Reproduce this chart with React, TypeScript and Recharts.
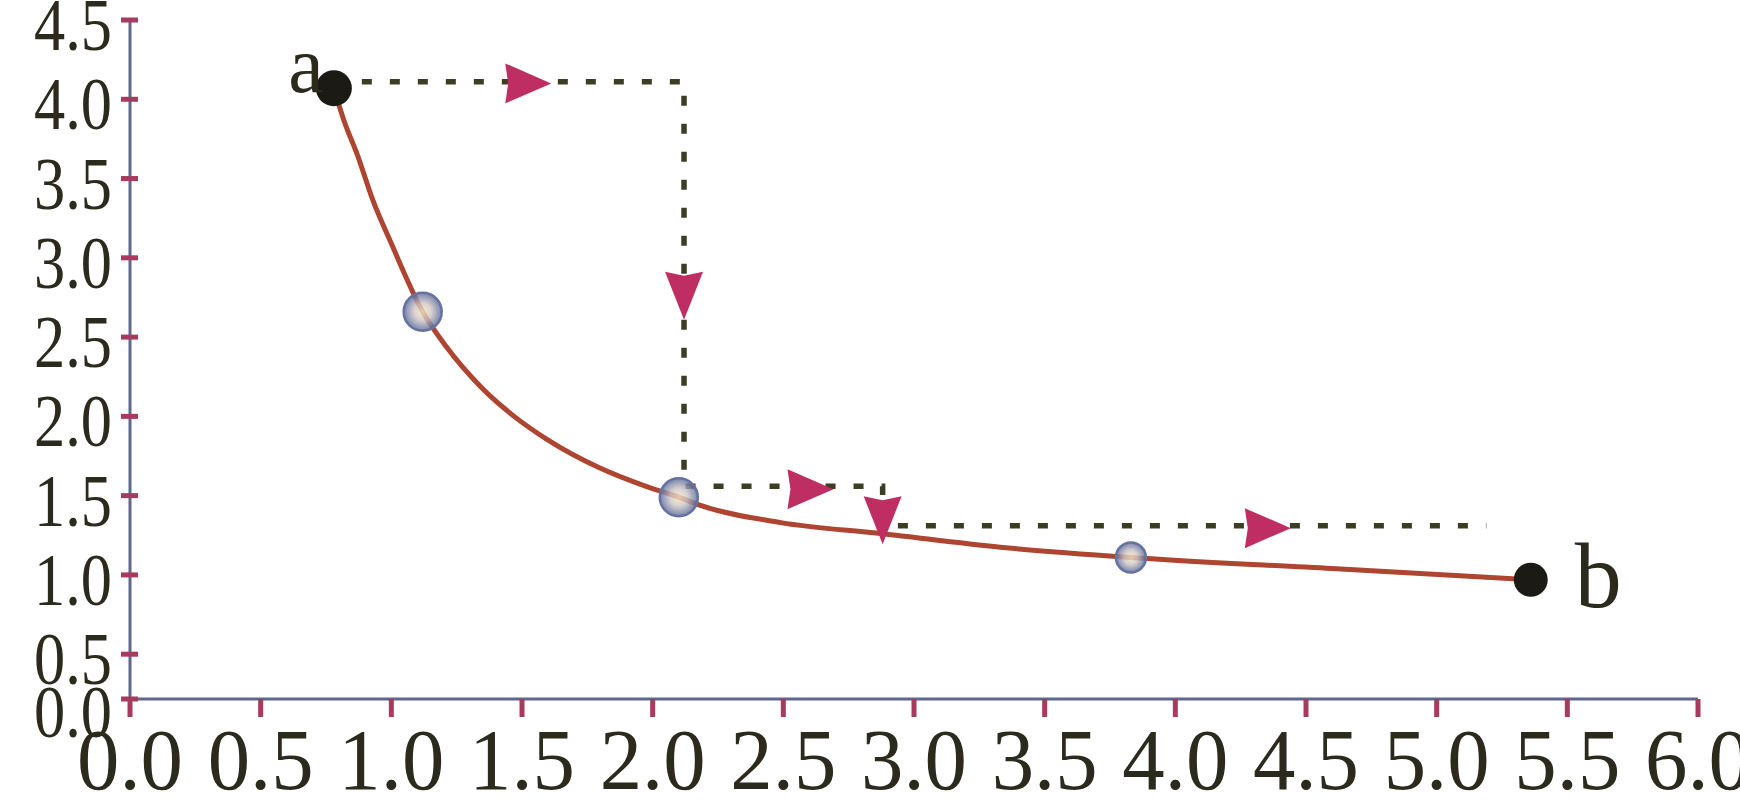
import React from 'react';
import { ComposedChart, Line, Scatter, XAxis, YAxis } from 'recharts';

// curve a -> b
const curveX = [0.78, 0.82, 0.87, 0.93, 1.0, 1.12, 1.21, 1.34, 1.47, 1.6, 1.79, 1.98, 2.1, 2.18, 2.49, 2.88, 3.33, 3.83, 4.6, 5.36];
const curveY = [4.07, 3.86, 3.65, 3.36, 3.09, 2.66, 2.44, 2.19, 2.0, 1.85, 1.68, 1.555, 1.49, 1.44, 1.33, 1.26, 1.175, 1.11, 1.04, 0.97];

// dotted step path
const pathX = [0.78, 2.12, 2.12, 2.88, 2.88, 5.19];
const pathY = [4.11, 4.11, 1.56, 1.56, 1.31, 1.31];

// arrow heads along the path
const arrowX = [1.52, 2.12, 2.6, 2.88, 4.35];
const arrowY = [4.1, 2.76, 1.54, 1.345, 1.295];
const arrowDir = ['right', 'down', 'right', 'down', 'right'];

// marked states on the curve
const midX = [1.12, 2.1, 3.83];
const midY = [2.66, 1.49, 1.11];
const endX = [0.78, 5.36];
const endY = [4.07, 0.97];
const endNames = ['a', 'b'];

const xTicks = [0, 0.5, 1, 1.5, 2, 2.5, 3, 3.5, 4, 4.5, 5, 5.5, 6];
const yTicks = [0, 0.5, 1, 1.5, 2, 2.5, 3, 3.5, 4, 4.5];

const curve = curveX.map((x, i) => ({ x, y: curveY[i] }));
const path = pathX.map((x, i) => ({ x, y: pathY[i] }));
const arrows = arrowX.map((x, i) => ({ x, y: arrowY[i], dir: arrowDir[i] }));
const mids = midX.map((x, i) => ({ x, y: midY[i] }));
const ends = endX.map((x, i) => ({ x, y: endY[i], name: endNames[i] }));

const INK = '#2b2a1c';
const TICK_RED = '#a83a5e';
const AXIS_BLUE = '#5f678c';
const CURVE = '#ad4530';
const DASH = '#3d3d24';
const ARROW = '#bf2e63';
const SERIF = '"Liberation Serif", "DejaVu Serif", serif';
const MID_R = [19, 19, 15];

// the scanned y axis squeezes the 0..0.5 band, so use a two-piece linear scale
const Y_BREAK = 0.5;
const Y_BREAK_SHARE = 0.066;

function brokenScale(): any {
  let dom = [0, 1];
  let rng = [0, 1];
  const s: any = (v: number) => {
    const [d0, d1] = dom;
    const [r0, r1] = rng;
    const rb = r0 + (r1 - r0) * Y_BREAK_SHARE;
    if (v <= Y_BREAK) return r0 + ((rb - r0) * (v - d0)) / (Y_BREAK - d0);
    return rb + ((r1 - rb) * (v - Y_BREAK)) / (d1 - Y_BREAK);
  };
  s.domain = (d?: any[]) => {
    if (d === undefined) return dom.slice();
    dom = d.map(Number);
    return s;
  };
  s.range = (r?: any[]) => {
    if (r === undefined) return rng.slice();
    rng = r.map(Number);
    return s;
  };
  s.copy = () => brokenScale().domain(dom).range(rng);
  s.ticks = () => yTicks.slice();
  s.tickFormat = () => (v: number) => v.toFixed(1);
  s.invert = (p: number) => {
    const [d0, d1] = dom;
    const [r0, r1] = rng;
    const rb = r0 + (r1 - r0) * Y_BREAK_SHARE;
    if ((p - rb) * (r0 - rb) >= 0) return d0 + ((p - r0) * (Y_BREAK - d0)) / (rb - r0);
    return Y_BREAK + ((p - rb) * (d1 - Y_BREAK)) / (r1 - rb);
  };
  return s;
}

function XTick(props: any) {
  const { x, y, payload } = props;
  return (
    <text x={x} y={y} dy={72} textAnchor="middle" fontFamily={SERIF} fontSize={86} fill={INK}
      textLength={106} lengthAdjust="spacingAndGlyphs">
      {Number(payload.value).toFixed(1)}
    </text>
  );
}

function YTick(props: any) {
  const { x, y, payload } = props;
  const v = Number(payload.value);
  return (
    <g>
      <line x1={x - 9} x2={x + 8} y1={y} y2={y} stroke={TICK_RED} strokeWidth={5} />
      <text x={x - 18} y={y} dy={v === 0 ? 38 : 30} textAnchor="end" fontFamily={SERIF} fontSize={74} fill={INK}
        textLength={78} lengthAdjust="spacingAndGlyphs">
        {v.toFixed(1)}
      </text>
    </g>
  );
}

function ArrowHead(props: any) {
  const { cx, cy, payload } = props;
  if (cx == null || cy == null) return null;
  const pts =
    payload.dir === 'down'
      ? [[cx - 19, cy - 24], [cx, cy - 20], [cx + 19, cy - 24], [cx, cy + 24]]
      : [[cx - 22, cy - 20], [cx + 24, cy], [cx - 22, cy + 20], [cx - 19, cy]];
  return <polygon points={pts.map(p => p.join(',')).join(' ')} fill={ARROW} />;
}

function MidDot(props: any) {
  const { cx, cy, index } = props;
  if (cx == null || cy == null) return null;
  const id = `mid-grad-${index}`;
  return (
    <g>
      <defs>
        <radialGradient id={id} cx="50%" cy="50%" r="50%">
          <stop offset="0%" stopColor="#f4e9c2" />
          <stop offset="45%" stopColor="#cfc6c4" />
          <stop offset="100%" stopColor="#56649a" />
        </radialGradient>
      </defs>
      <circle cx={cx} cy={cy} r={MID_R[index] ?? 17} fill={`url(#${id})`} fillOpacity={0.8}
        stroke="#66729f" strokeWidth={2.5} />
    </g>
  );
}

function EndDot(props: any) {
  const { cx, cy, payload } = props;
  if (cx == null || cy == null) return null;
  const isA = payload.name === 'a';
  return (
    <g>
      <circle cx={cx} cy={cy} r={isA ? 18 : 17} fill="#1c1a14" />
      <text
        x={isA ? cx - 10 : cx + 44}
        y={isA ? cy + 4 : cy + 27}
        textAnchor={isA ? 'end' : 'start'}
        fontFamily={SERIF}
        fontSize={isA ? 80 : 94}
        fill={INK}
      >
        {payload.name}
      </text>
    </g>
  );
}

export default function App() {
  return (
    <div style={{ position: 'fixed', left: 0, top: 0, background: '#fff' }}>
      <ComposedChart width={1740} height={799} margin={{ top: 20, right: 42, bottom: 0, left: 0 }}>
        <XAxis
          dataKey="x"
          type="number"
          domain={[0, 6]}
          ticks={xTicks}
          height={100}
          axisLine={{ stroke: AXIS_BLUE, strokeWidth: 3 }}
          tickLine={{ stroke: TICK_RED, strokeWidth: 5 }}
          tickSize={18}
          tickMargin={0}
          tick={<XTick />}
          interval={0}
          allowDataOverflow
        />
        <YAxis
          dataKey="y"
          type="number"
          domain={[0, 4.5]}
          ticks={yTicks}
          scale={brokenScale()}
          width={130}
          axisLine={{ stroke: AXIS_BLUE, strokeWidth: 3 }}
          tickLine={false}
          tickSize={0}
          tickMargin={0}
          tick={<YTick />}
          interval={0}
          allowDataOverflow
        />
        <Line
          data={curve}
          dataKey="y"
          type="monotone"
          stroke={CURVE}
          strokeWidth={5}
          dot={false}
          activeDot={false}
          isAnimationActive={false}
        />
        <Line
          data={path}
          dataKey="y"
          type="linear"
          stroke={DASH}
          strokeWidth={5.5}
          strokeDasharray="10 18"
          dot={false}
          activeDot={false}
          isAnimationActive={false}
        />
        <Scatter data={mids} dataKey="y" shape={<MidDot />} isAnimationActive={false} />
        <Scatter data={arrows} dataKey="y" shape={<ArrowHead />} isAnimationActive={false} />
        <Scatter data={ends} dataKey="y" shape={<EndDot />} isAnimationActive={false} />
      </ComposedChart>
    </div>
  );
}
